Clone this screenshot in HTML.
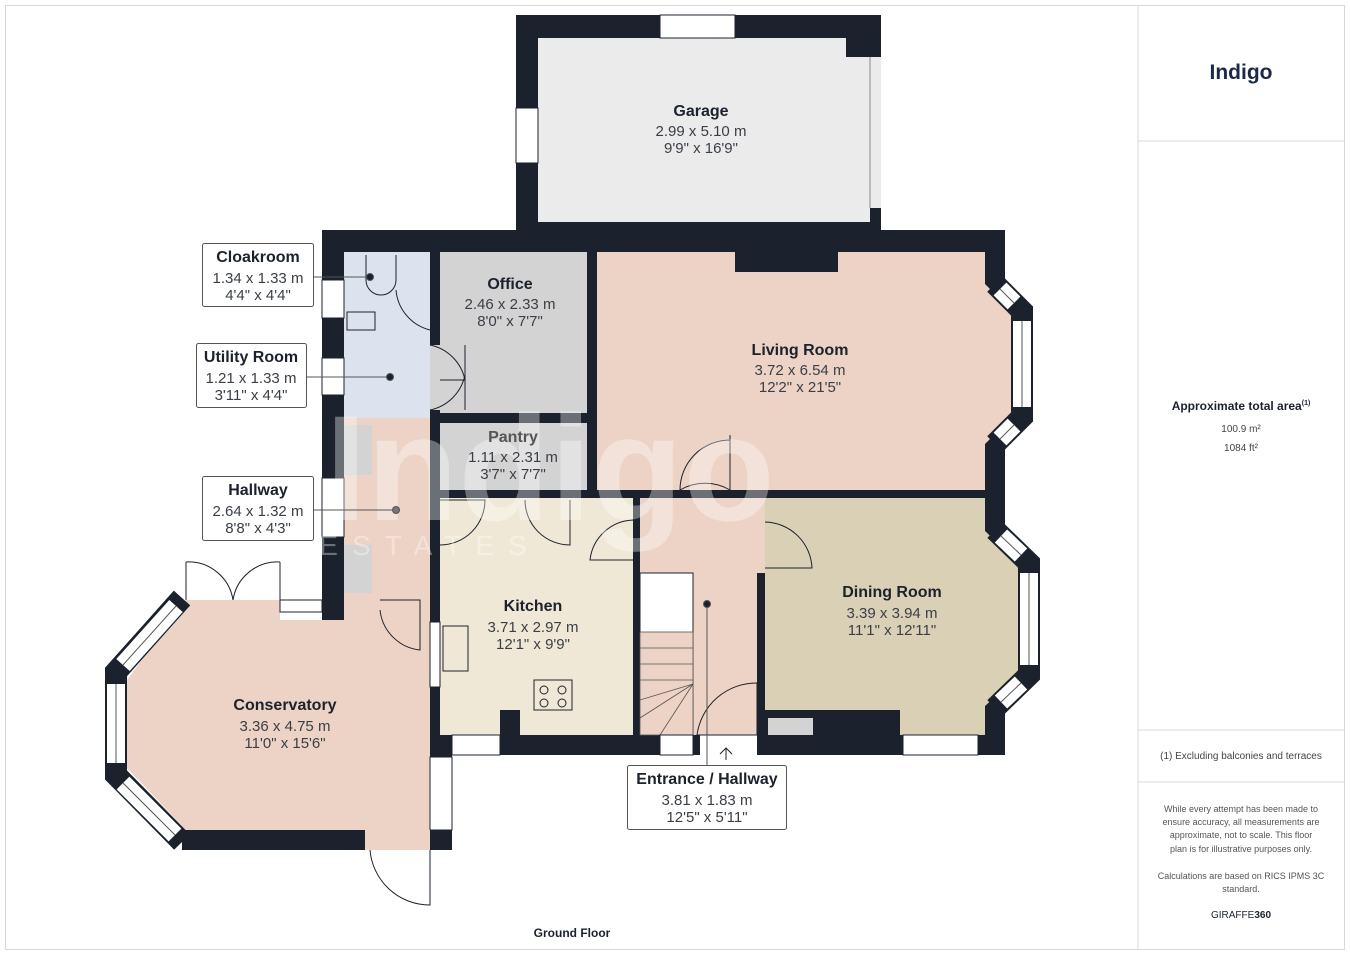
<!DOCTYPE html>
<html><head><meta charset="utf-8"><style>
html,body{margin:0;padding:0;background:#fff}
svg{display:block}
text{font-family:"Liberation Sans",sans-serif}
.t{font-size:16px;font-weight:bold;fill:#1b222d;text-anchor:middle}
.d{font-size:15px;fill:#3a3f47;text-anchor:middle}
.s{font-size:10px;fill:#444;text-anchor:middle}
.w{fill:#1b222d}
.win{fill:#fff;stroke:#1b222d;stroke-width:1}
.door{fill:none;stroke:#1b222d;stroke-width:1}
.bw{fill:none;stroke:#1b222d;stroke-width:22;stroke-linejoin:miter;stroke-miterlimit:10}
.bwin{stroke:#fff;stroke-width:18}
.bmid{stroke:#555;stroke-width:1}
</style></head><body>
<svg width="1350" height="955" viewBox="0 0 1350 955">
<rect x="5.5" y="5.5" width="1339" height="944" fill="#fff" stroke="#d8d8d8"/>
<line x1="1138" y1="5" x2="1138" y2="950" stroke="#d8d8d8"/>
<line x1="1138" y1="141" x2="1345" y2="141" stroke="#d8d8d8"/>
<line x1="1138" y1="730" x2="1345" y2="730" stroke="#d8d8d8"/>
<line x1="1138" y1="782" x2="1345" y2="782" stroke="#d8d8d8"/>

<!-- Garage -->
<rect class="w" x="516" y="15" width="365" height="215"/>
<rect x="538" y="38" width="332" height="184" fill="#ebebeb"/>
<rect x="846" y="15" width="35" height="42" class="w"/>
<rect x="870" y="57" width="11" height="151" fill="#ebebeb"/>
<line x1="870" y1="57" x2="870" y2="208" stroke="#888"/>
<rect class="win" x="660" y="15" width="75" height="23"/>
<rect class="win" x="516" y="108" width="22" height="55"/>

<!-- Main walls background -->
<rect class="w" x="322" y="230" width="683" height="525"/>
<rect class="w" x="182" y="830" width="270" height="20"/>
<rect class="w" x="322" y="600" width="130" height="20"/>
<rect class="w" x="430" y="620" width="22" height="230"/>

<!-- room fills -->
<rect x="344" y="252" width="86" height="166" fill="#dde3ee"/>
<rect x="440" y="252" width="147" height="161" fill="#d3d3d3"/>
<rect x="597" y="252" width="388" height="238" fill="#ecd3c5"/>
<polygon points="984,283 1011,310 1011,418 984,445" fill="#ecd3c5"/>
<rect x="735" y="252" width="103" height="20" class="w"/>
<rect x="440" y="423" width="147" height="67" fill="#d3d3d3"/>
<polygon points="344,418 430,418 430,600 380,600 380,620 344,620" fill="#ecd3c5"/>
<rect x="344" y="425" width="28" height="50" fill="#d3d3d3"/>
<rect x="344" y="545" width="28" height="48" fill="#d3d3d3"/>
<polygon points="186,600 280,600 280,620 430,620 430,830 186,830 127,768 127,680" fill="#ecd3c5"/>
<rect x="380" y="600" width="50" height="25" fill="#ecd3c5"/>
<rect x="440" y="498" width="193" height="237" fill="#f0e8d6"/>
<rect x="500" y="710" width="103" height="45" class="w"/>
<rect x="520" y="710" width="83" height="25" fill="#f0e8d6"/>
<rect x="640" y="498" width="117" height="237" fill="#ecd3c5"/>
<rect x="640" y="573" width="53" height="162" fill="#fff" stroke="#1b222d"/>
<rect x="640" y="632" width="53" height="103" fill="#ecd3c5" stroke="#555" stroke-width=".8"/>
<g stroke="#555" stroke-width=".8">
<line x1="640" y1="648" x2="693" y2="648"/><line x1="640" y1="664" x2="693" y2="664"/><line x1="640" y1="680" x2="693" y2="680"/>
<line x1="640" y1="700" x2="693" y2="684"/><line x1="640" y1="718" x2="693" y2="684"/><line x1="660" y1="735" x2="693" y2="684"/></g>
<rect x="765" y="498" width="220" height="237" fill="#d9d0b6"/>
<polygon points="984,530 1018,563 1018,675 984,707" fill="#d9d0b6"/>
<rect x="765" y="710" width="135" height="45" class="w"/>
<rect x="768" y="718" width="45" height="17" fill="#d3d3d3"/>

<!-- bay windows -->
<polyline class="bw" points="995,284 1022,311 1022,417 995,444"/>
<line class="bwin" x1="1000" y1="289" x2="1014" y2="303"/><line class="bwin" x1="1022" y1="321" x2="1022" y2="407"/><line class="bwin" x1="1014" y1="425" x2="1000" y2="439"/>
<line class="bmid" x1="1000" y1="289" x2="1014" y2="303"/><line class="bmid" x1="1022" y1="321" x2="1022" y2="407"/><line class="bmid" x1="1014" y1="425" x2="1000" y2="439"/>

<polyline class="bw" points="995,530 1029,563 1029,675 995,708"/>
<line class="bwin" x1="1001" y1="536" x2="1021" y2="555"/><line class="bwin" x1="1029" y1="573" x2="1029" y2="665"/><line class="bwin" x1="1021" y1="683" x2="1001" y2="702"/>
<line class="bmid" x1="1001" y1="536" x2="1021" y2="555"/><line class="bmid" x1="1029" y1="573" x2="1029" y2="665"/><line class="bmid" x1="1021" y1="683" x2="1001" y2="702"/>

<polyline class="bw" points="182,598 116,672 116,775 182,842"/>
<line class="bwin" x1="176" y1="606" x2="123" y2="665"/><line class="bwin" x1="116" y1="684" x2="116" y2="763"/><line class="bwin" x1="123" y1="783" x2="175" y2="835"/>
<line class="bmid" x1="176" y1="606" x2="123" y2="665"/><line class="bmid" x1="116" y1="684" x2="116" y2="763"/><line class="bmid" x1="123" y1="783" x2="175" y2="835"/>

<!-- windows -->
<rect class="win" x="322" y="280" width="22" height="38"/>
<rect class="win" x="322" y="358" width="22" height="37"/>
<rect class="win" x="322" y="478" width="22" height="59"/>
<rect class="win" x="452" y="735" width="48" height="20"/>
<rect class="win" x="660" y="735" width="33" height="20"/>
<rect class="win" x="903" y="735" width="75" height="20"/>
<rect class="win" x="430" y="757" width="22" height="73"/>
<rect class="win" x="430" y="622" width="10" height="65"/>
<rect class="win" x="280" y="600" width="42" height="12"/>
<!-- openings -->
<rect x="430" y="345" width="10" height="65" fill="#d3d3d3"/>
<rect x="365" y="830" width="65" height="20" fill="#ecd3c5"/>
<rect x="757" y="498" width="8" height="75" fill="#ecd3c5"/>
<rect x="700" y="735" width="57" height="20" fill="#fff"/>

<!-- doors -->
<g class="door">
<path d="M430 345 A45 45 0 0 1 465 380 L440 380"/><path d="M430 410 A45 45 0 0 0 465 375"/>
<line x1="465" y1="345" x2="465" y2="378"/><line x1="465" y1="377" x2="465" y2="410"/>
<path d="M380 600 L420 600 L420 650 A45 45 0 0 1 380 610"/>
<path d="M440 500 L485 500 A45 45 0 0 1 440 545"/>
<path d="M570 500 L570 545 A45 45 0 0 1 525 500"/>
<path d="M633 560 L590 560 A45 45 0 0 1 633 520"/>
<path d="M730 435 L730 490 A50 50 0 0 0 680 490 A50 50 0 0 1 730 440"/>
<path d="M765 522 A48 48 0 0 1 812 568 L765 568"/>
<path d="M757 683 A60 60 0 0 0 697 735 L757 735 Z" fill="none"/>
<path d="M430 850 L430 905 A60 60 0 0 1 370 850"/>
<path d="M186 562 L186 600 M186 562 A45 45 0 0 1 233 600 M280 562 L280 600 M280 562 A45 45 0 0 0 233 600"/>
<path d="M396 255 L396 280 A15 15 0 0 1 366 280 L366 255 M396 290 A45 45 0 0 0 430 330"/>
<rect x="347" y="312" width="28" height="18"/>
<rect x="443" y="626" width="25" height="45"/>
<rect x="534" y="680" width="38" height="30"/>
<circle cx="544" cy="690" r="4"/><circle cx="562" cy="690" r="4"/><circle cx="544" cy="703" r="4"/><circle cx="562" cy="703" r="4"/>
<line x1="726" y1="748" x2="726" y2="760"/><path d="M720 754 L726 748 L732 754"/>
</g>

<!-- watermark -->
<text x="550" y="520" font-size="150" font-weight="bold" fill="#fff" opacity="0.35" text-anchor="middle">Indigo</text>
<text x="430" y="555" font-size="28" fill="#fff" opacity="0.35" text-anchor="middle" letter-spacing="14">ESTATES</text>

<!-- room labels -->
<text class="t" x="701" y="116">Garage</text><text class="d" x="701" y="136">2.99 x 5.10 m</text><text class="d" x="701" y="153">9'9" x 16'9"</text>
<text class="t" x="510" y="289">Office</text><text class="d" x="510" y="309">2.46 x 2.33 m</text><text class="d" x="510" y="326">8'0" x 7'7"</text>
<text class="t" x="800" y="355">Living Room</text><text class="d" x="800" y="375">3.72 x 6.54 m</text><text class="d" x="800" y="392">12'2" x 21'5"</text>
<text class="t" x="513" y="442" style="fill:#555">Pantry</text><text class="d" x="513" y="462">1.11 x 2.31 m</text><text class="d" x="513" y="479">3'7" x 7'7"</text>
<text class="t" x="533" y="611">Kitchen</text><text class="d" x="533" y="632">3.71 x 2.97 m</text><text class="d" x="533" y="649">12'1" x 9'9"</text>
<text class="t" x="892" y="597">Dining Room</text><text class="d" x="892" y="618">3.39 x 3.94 m</text><text class="d" x="892" y="635">11'1" x 12'11"</text>
<text class="t" x="285" y="710">Conservatory</text><text class="d" x="285" y="731">3.36 x 4.75 m</text><text class="d" x="285" y="748">11'0" x 15'6"</text>

<!-- callouts -->
<g stroke="#555" fill="#fff">
<line x1="314" y1="277" x2="370" y2="277"/><circle cx="370" cy="277" r="3.5" fill="#1b222d"/>
<line x1="307" y1="377" x2="390" y2="377"/><circle cx="390" cy="377" r="3.5" fill="#1b222d"/>
<line x1="313" y1="510" x2="396" y2="510"/><circle cx="396" cy="510" r="3.5" fill="#777"/>
<line x1="707" y1="604" x2="707" y2="765"/><circle cx="707" cy="604" r="3.5" fill="#1b222d"/>
<rect x="202.5" y="243.5" width="111" height="63" rx="2"/>
<rect x="196.5" y="343.5" width="110" height="64" rx="2"/>
<rect x="202.5" y="476.5" width="111" height="64" rx="2"/>
<rect x="627.5" y="765.5" width="159" height="64" rx="2"/>
</g>
<text class="t" x="258" y="262">Cloakroom</text><text class="d" x="258" y="283">1.34 x 1.33 m</text><text class="d" x="258" y="300">4'4" x 4'4"</text>
<text class="t" x="251" y="362">Utility Room</text><text class="d" x="251" y="383">1.21 x 1.33 m</text><text class="d" x="251" y="400">3'11" x 4'4"</text>
<text class="t" x="258" y="495">Hallway</text><text class="d" x="258" y="516">2.64 x 1.32 m</text><text class="d" x="258" y="533">8'8" x 4'3"</text>
<text class="t" x="707" y="784">Entrance / Hallway</text><text class="d" x="707" y="805">3.81 x 1.83 m</text><text class="d" x="707" y="822">12'5" x 5'11"</text>

<text x="572" y="937" font-size="12" font-weight="bold" fill="#1b222d" text-anchor="middle">Ground Floor</text>

<!-- sidebar -->
<text x="1241" y="79" font-size="21" font-weight="bold" fill="#1b2a4a" text-anchor="middle">Indigo</text>
<text x="1241" y="410" font-size="12" font-weight="bold" fill="#1b222d" text-anchor="middle">Approximate total area<tspan font-size="7" dy="-5">(1)</tspan></text>
<text class="s" x="1241" y="432" font-size="11">100.9 m²</text>
<text class="s" x="1241" y="451" font-size="11">1084 ft²</text>
<text class="s" x="1241" y="759" font-size="9">(1) Excluding balconies and terraces</text>
<g font-size="9" fill="#555" text-anchor="middle">
<text x="1241" y="812">While every attempt has been made to</text>
<text x="1241" y="825">ensure accuracy, all measurements are</text>
<text x="1241" y="838">approximate, not to scale. This floor</text>
<text x="1241" y="852">plan is for illustrative purposes only.</text>
<text x="1241" y="879">Calculations are based on RICS IPMS 3C</text>
<text x="1241" y="892">standard.</text>
</g>
<text x="1241" y="918" font-size="10" fill="#1b222d" text-anchor="middle">GIRAFFE<tspan font-weight="bold">360</tspan></text>
</svg>
</body></html>
